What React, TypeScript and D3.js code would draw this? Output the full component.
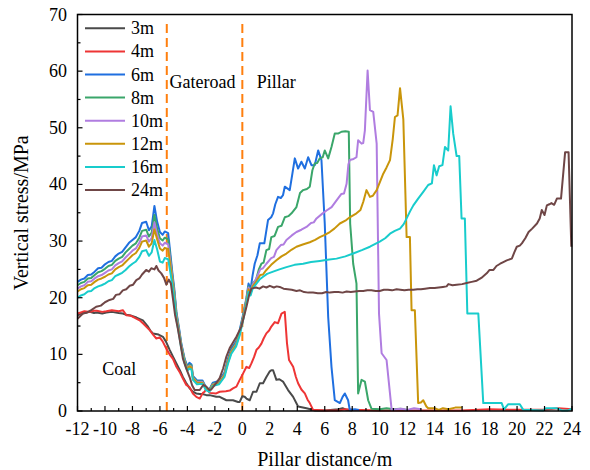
import React from 'react';
import * as d3 from 'd3';

type P = [number, number];

const seriesNames = ['3m', '4m', '6m', '8m', '10m', '12m', '16m', '24m'];
const seriesColors = ['#4a4a4a', '#ee3535', '#1f6fe0', '#3aa66a', '#b07de0', '#c9950a', '#18cccc', '#6f4646'];

const s3: P[] = [[-12,16.9],[-11.75,17.2],[-11.5,17.3],[-11.1,17.5],[-10.8,17.3],[-10.6,17.4],[-10.2,17.2],[-9.9,17.4],[-9.5,17.5],[-9.0,17.3],[-8.7,17.2],[-8.45,17.0],[-8.2,16.9],[-7.7,16.5],[-7.24,16.0],[-6.9,15.0],[-6.7,14.2],[-6.51,13.7],[-6.3,13.6],[-6.1,13.5],[-5.78,13.1],[-5.55,12.2],[-5.29,10.8],[-5.05,9.6],[-4.8,8.4],[-4.55,7.2],[-4.33,6.0],[-4.1,5.0],[-3.83,4.0],[-3.6,3.4],[-3.35,3.1],[-3.1,3.0],[-2.9,3.0],[-2.62,2.8],[-2.38,2.8],[-1.9,2.5],[-1.65,2.5],[-1.16,1.9],[-0.68,1.9],[-0.31,1.6],[-0.19,1.6],[0.0,2.6],[0.17,2.5],[0.3,2.2],[0.54,1.9],[0.78,3.4],[1.03,3.4],[1.27,4.9],[1.51,4.9],[1.75,6.0],[2.0,7.0],[2.11,7.2],[2.24,7.2],[2.48,5.5],[2.7,5.6],[2.96,5.2],[3.33,3.7],[3.7,2.5],[4.06,0.8],[4.67,0.5],[5.3,0.1],[6.0,0.1],[7.0,0.3],[7.3,0.5],[7.6,0.2],[8.0,0.1]];

const s4: P[] = [[-12,17.2],[-11.75,17.4],[-11.5,17.6],[-11.1,17.5],[-10.8,17.7],[-10.6,17.7],[-10.2,17.5],[-9.9,17.6],[-9.5,17.8],[-9.0,17.6],[-8.7,17.8],[-8.55,17.3],[-8.45,16.9],[-8.1,16.8],[-7.72,16.3],[-7.48,16.0],[-7.2,15.4],[-7.0,14.9],[-6.75,14.3],[-6.5,13.5],[-6.26,12.8],[-6.02,13.0],[-5.8,12.3],[-5.53,11.0],[-5.3,10.0],[-5.05,9.2],[-4.8,7.8],[-4.57,6.9],[-4.3,5.6],[-4.08,4.6],[-3.84,4.2],[-3.6,3.1],[-3.35,2.5],[-3.1,2.2],[-2.87,3.2],[-2.75,3.4],[-2.6,4.0],[-2.38,3.2],[-1.9,3.1],[-1.65,3.4],[-1.2,3.5],[-0.92,3.6],[-0.68,4.0],[-0.43,4.3],[-0.19,5.5],[0.05,6.6],[0.3,7.8],[0.5,7.6],[0.66,8.4],[0.85,9.5],[1.03,10.8],[1.2,11.2],[1.39,11.9],[1.55,12.8],[1.75,13.7],[1.95,14.2],[2.11,14.9],[2.36,15.7],[2.6,15.5],[2.85,17.2],[3.09,17.5],[3.25,12.0],[3.4,9.0],[3.7,7.8],[3.9,6.0],[4.06,4.9],[4.3,3.8],[4.55,3.1],[4.75,2.0],[4.91,1.4],[5.15,0.2],[6,0.1],[7,0.1],[7.5,0.3],[8,0.2],[10,0.1],[12,0.1],[14,0.1],[16,0.1],[18,0.3],[20,0.2],[22,0.2],[23,0.5],[24,0.3]];

const s6: P[] = [[-12,22.8],[-11.75,23.2],[-11.5,23.4],[-11.25,24.0],[-11,24.1],[-10.75,24.6],[-10.5,25.2],[-10.25,25.3],[-10,25.9],[-9.75,26.3],[-9.5,26.5],[-9.25,27.3],[-9,27.8],[-8.75,28.1],[-8.5,28.9],[-8.25,29.7],[-8,30.2],[-7.75,30.7],[-7.5,31.8],[-7.3,33.2],[-7,33.4],[-6.8,31.9],[-6.6,32.6],[-6.4,36.2],[-6.2,33.4],[-6.0,31.6],[-5.8,31.1],[-5.65,31.7],[-5.4,31.4],[-5.25,28.0],[-5.1,24.5],[-4.95,21.5],[-4.8,17.5],[-4.6,14.5],[-4.45,12.0],[-4.2,9.2],[-4.0,7.9],[-3.85,8.5],[-3.7,8.2],[-3.6,6.2],[-3.3,5.4],[-2.9,5.4],[-2.65,4.2],[-2.4,3.8],[-2.15,5.0],[-1.7,5.3],[-1.3,6.8],[-1.05,9.2],[-0.8,11.0],[-0.45,12.3],[-0.2,14.2],[0.1,17.5],[0.3,20.0],[0.45,22.5],[0.6,21.5],[0.75,24.0],[0.9,26.0],[1.1,27.5],[1.27,29.6],[1.6,29.6],[1.87,33.7],[2.1,34.2],[2.24,34.9],[2.4,36.5],[2.6,37.8],[2.8,37.6],[2.96,38.1],[3.09,39.6],[3.45,39.0],[3.65,42.0],[3.82,44.6],[4.06,42.8],[4.3,44.0],[4.55,42.8],[4.79,44.8],[5.03,43.4],[5.27,43.4],[5.52,46.0],[5.76,44.3],[6.0,33.1],[6.25,16.6],[6.49,7.8],[6.73,1.9],[7.1,1.4],[7.3,2.5],[7.46,3.1],[7.7,1.9],[7.82,0.2],[8.2,0.3],[8.5,0.2]];

const s8: P[] = [[-12,22.2],[-11.75,22.6],[-11.5,22.8],[-11.25,23.4],[-11,23.5],[-10.75,24.0],[-10.5,24.5],[-10.25,24.7],[-10,25.1],[-9.75,25.6],[-9.5,25.8],[-9.25,26.5],[-9,26.9],[-8.75,27.2],[-8.5,28.0],[-8.25,28.6],[-8,29.2],[-7.75,29.6],[-7.5,30.6],[-7.3,31.8],[-7,32.0],[-6.8,30.8],[-6.6,31.5],[-6.4,34.6],[-6.2,32.2],[-6.0,30.5],[-5.8,30.1],[-5.65,30.6],[-5.4,30.3],[-5.25,27.3],[-5.1,24.0],[-4.95,21.0],[-4.8,17.2],[-4.6,14.2],[-4.45,11.8],[-4.2,9.0],[-4.0,7.7],[-3.85,8.2],[-3.7,8.0],[-3.6,6.0],[-3.3,5.2],[-2.9,5.2],[-2.65,4.1],[-2.4,3.7],[-2.15,4.8],[-1.7,5.1],[-1.3,6.5],[-1.05,8.9],[-0.8,10.7],[-0.45,12.0],[-0.2,13.9],[0.1,17.2],[0.3,19.8],[0.45,22.0],[0.6,21.2],[0.75,22.5],[1.0,23.2],[1.2,25.0],[1.39,26.0],[1.55,26.2],[1.75,28.4],[1.95,28.6],[2.11,30.7],[2.35,30.9],[2.6,32.5],[2.85,32.7],[3.09,34.2],[3.35,34.4],[3.58,34.9],[3.94,36.0],[4.2,38.5],[4.43,39.0],[4.7,39.2],[4.91,39.6],[5.1,42.5],[5.27,43.7],[5.45,43.8],[5.64,44.6],[5.85,44.8],[6.0,46.0],[6.25,44.6],[6.49,46.6],[6.73,49.0],[7.0,49.0],[7.22,49.3],[7.5,49.4],[7.75,49.3],[7.85,33.1],[8.07,26.0],[8.31,22.5],[8.43,3.1],[8.68,5.5],[8.92,5.2],[9.16,1.9],[9.4,0.4],[10,0.3],[10.5,0.5],[11,0.3],[11.5,0.4],[12,0.2]];

const s10: P[] = [[-12,21.6],[-11.75,22.0],[-11.5,22.2],[-11.25,22.8],[-11,22.9],[-10.75,23.4],[-10.5,23.8],[-10.25,24.0],[-10,24.4],[-9.75,24.8],[-9.5,25.0],[-9.25,25.7],[-9,26.1],[-8.75,26.4],[-8.5,27.1],[-8.25,27.7],[-8,28.3],[-7.75,28.7],[-7.5,29.7],[-7.3,30.8],[-7,31.0],[-6.8,29.9],[-6.6,30.5],[-6.4,33.3],[-6.2,31.2],[-6.0,29.6],[-5.8,29.2],[-5.65,29.7],[-5.4,29.4],[-5.25,26.6],[-5.1,23.6],[-4.95,20.6],[-4.8,16.9],[-4.6,14.0],[-4.45,11.6],[-4.2,8.8],[-4.0,7.5],[-3.85,8.0],[-3.7,7.8],[-3.6,5.9],[-3.3,5.1],[-2.9,5.1],[-2.65,4.0],[-2.4,3.6],[-2.15,4.7],[-1.7,5.0],[-1.3,6.4],[-1.05,8.7],[-0.8,10.5],[-0.45,11.8],[-0.2,13.7],[0.1,17.0],[0.3,19.6],[0.45,21.8],[0.6,21.0],[0.75,22.3],[1.0,23.3],[1.3,25.0],[1.5,25.2],[1.75,26.0],[2.1,27.0],[2.3,27.2],[2.48,28.4],[2.8,29.3],[3.0,29.4],[3.21,30.2],[3.6,31.0],[3.94,31.6],[4.3,32.0],[4.67,32.5],[5.0,33.2],[5.2,33.3],[5.4,34.0],[5.8,34.8],[6.13,35.4],[6.5,36.0],[6.86,37.2],[7.2,38.3],[7.4,38.4],[7.59,40.1],[7.72,43.5],[7.82,44.3],[8.1,44.5],[8.31,44.8],[8.43,47.8],[8.68,47.2],[8.8,47.3],[8.92,49.5],[9.12,60.1],[9.29,53.1],[9.53,52.8],[9.78,47.2],[9.95,17.2],[10.14,10.2],[10.5,9.0],[10.87,0.2],[11.2,0.3],[11.6,0.4],[12.0,0.2],[12.5,0.5],[13.0,0.3]];

const s12: P[] = [[-12,21.1],[-11.75,21.5],[-11.5,21.7],[-11.25,22.2],[-11,22.3],[-10.75,22.8],[-10.5,23.2],[-10.25,23.4],[-10,23.7],[-9.75,24.1],[-9.5,24.3],[-9.25,25.0],[-9,25.4],[-8.75,25.7],[-8.5,26.3],[-8.25,26.9],[-8,27.5],[-7.75,27.9],[-7.5,28.8],[-7.3,29.9],[-7,30.1],[-6.8,29.0],[-6.6,29.6],[-6.4,32.1],[-6.2,30.3],[-6.0,28.7],[-5.8,28.3],[-5.65,28.8],[-5.4,28.6],[-5.25,25.9],[-5.1,23.2],[-4.95,20.3],[-4.8,16.7],[-4.6,13.8],[-4.45,11.4],[-4.2,8.7],[-4.0,7.4],[-3.85,7.9],[-3.7,7.7],[-3.6,5.8],[-3.3,5.0],[-2.9,5.0],[-2.65,3.9],[-2.4,3.6],[-2.15,4.6],[-1.7,4.9],[-1.3,6.3],[-1.05,8.6],[-0.8,10.4],[-0.45,11.7],[-0.2,13.6],[0.1,16.8],[0.3,19.4],[0.45,21.5],[0.6,20.7],[0.75,22.0],[1.0,22.8],[1.3,24.0],[1.5,24.1],[1.75,24.9],[2.1,25.8],[2.48,26.6],[2.85,27.3],[3.21,27.8],[3.6,28.5],[3.94,29.0],[4.4,29.4],[4.91,29.8],[5.3,30.2],[5.64,30.7],[6.0,31.1],[6.37,31.6],[6.7,32.2],[7.1,33.1],[7.5,33.6],[7.82,34.2],[8.31,34.9],[8.6,35.5],[8.8,36.9],[9.04,39.0],[9.29,37.8],[9.5,38.0],[9.78,39.0],[10.0,40.3],[10.26,41.9],[10.5,43.0],[10.75,44.3],[10.95,48.0],[11.11,51.9],[11.3,52.2],[11.48,57.0],[11.72,51.5],[11.96,30.7],[12.2,30.7],[12.32,17.8],[12.56,17.8],[12.8,1.4],[13.0,1.5],[13.17,1.9],[13.4,0.8],[13.53,0.5],[14.0,0.5],[14.3,0.2],[14.6,0.5],[15.0,0.3],[15.5,0.6],[16.0,0.6]];

const s16: P[] = [[-12,20.0],[-11.75,20.4],[-11.5,20.6],[-11.25,21.1],[-11,21.2],[-10.75,21.7],[-10.5,22.0],[-10.25,22.2],[-10,22.5],[-9.75,22.9],[-9.5,23.1],[-9.25,23.8],[-9,24.1],[-8.75,24.4],[-8.5,24.9],[-8.25,25.5],[-8,26.0],[-7.75,26.4],[-7.5,27.2],[-7.3,28.2],[-7,28.4],[-6.8,27.4],[-6.6,28.0],[-6.4,30.2],[-6.2,28.5],[-6.0,26.4],[-5.8,26.2],[-5.65,27.0],[-5.4,26.8],[-5.25,24.6],[-5.1,22.3],[-4.95,19.7],[-4.8,16.2],[-4.6,13.4],[-4.45,11.1],[-4.2,8.4],[-4.0,7.1],[-3.85,7.5],[-3.7,7.3],[-3.6,5.5],[-3.3,4.7],[-2.9,4.8],[-2.65,3.7],[-2.4,3.4],[-2.15,4.4],[-1.7,4.7],[-1.3,6.0],[-1.05,8.3],[-0.8,10.1],[-0.45,11.4],[-0.2,13.3],[0.1,16.5],[0.3,19.0],[0.45,21.0],[0.6,20.4],[0.75,21.6],[1.0,22.4],[1.25,23.2],[1.51,23.7],[1.8,24.2],[2.24,24.6],[2.7,25.0],[3.21,25.4],[3.8,25.8],[4.43,26.0],[5.0,26.3],[5.64,26.5],[6.2,26.7],[6.86,26.9],[7.5,27.3],[8.07,27.8],[8.7,28.4],[9.29,29.0],[10.0,29.9],[10.4,30.5],[10.75,31.3],[11.1,31.8],[11.48,32.2],[11.75,33.0],[11.96,34.0],[12.2,35.2],[12.45,36.3],[12.8,37.5],[13.17,38.7],[13.53,39.9],[13.8,40.2],[13.95,43.4],[14.14,41.6],[14.33,43.2],[14.57,43.4],[14.75,46.6],[14.99,46.0],[15.16,53.8],[15.35,49.0],[15.6,45.0],[15.79,45.0],[15.96,34.0],[16.2,34.0],[16.38,17.2],[17.18,17.2],[17.54,1.4],[18.88,1.4],[19.05,0.3],[19.36,1.2],[20.2,1.2],[20.45,0.2],[21.9,0.1],[22.1,0.5],[22.9,0.5],[23.25,0.1],[23.7,0.1],[24,0.4]];

const s24: P[] = [[-12,16.3],[-11.6,17.2],[-11.3,17.4],[-11,17.8],[-10.64,18.4],[-10.3,18.6],[-10,19.2],[-9.67,19.6],[-9.4,19.8],[-9.2,20.5],[-8.95,20.6],[-8.7,21.3],[-8.45,21.5],[-8.2,22.1],[-7.95,22.3],[-7.72,23.1],[-7.5,23.4],[-7.3,24.1],[-7.0,24.9],[-6.8,24.6],[-6.63,25.2],[-6.4,25.0],[-6.26,25.6],[-6.1,24.8],[-5.9,24.3],[-5.7,23.5],[-5.53,22.3],[-5.35,23.2],[-5.2,22.5],[-5.05,19.8],[-4.9,17.0],[-4.7,14.6],[-4.5,11.8],[-4.33,9.3],[-4.1,7.6],[-3.84,6.0],[-3.65,4.5],[-3.47,3.7],[-3.1,3.7],[-2.85,4.6],[-2.62,4.3],[-2.4,3.7],[-2.26,3.8],[-1.95,4.8],[-1.65,5.8],[-1.4,7.5],[-1.16,9.6],[-0.92,11.1],[-0.7,12.0],[-0.43,13.1],[-0.25,14.0],[-0.07,14.9],[0.1,16.5],[0.3,18.4],[0.5,20.5],[0.66,21.6],[1.0,21.8],[1.25,21.6],[1.51,22.0],[1.75,21.8],[2.0,22.1],[2.3,21.8],[2.5,22.0],[2.72,21.9],[3.0,21.6],[3.3,21.5],[3.6,21.4],[3.94,21.2],[4.2,21.3],[4.5,21.0],[4.8,20.9],[5.15,20.9],[5.5,20.8],[5.8,20.8],[6.1,21.0],[6.37,20.9],[6.7,21.0],[7.0,21.0],[7.3,20.9],[7.59,21.1],[7.9,21.0],[8.2,21.1],[8.5,21.2],[8.8,21.2],[9.1,21.3],[9.4,21.3],[9.7,21.2],[10.0,21.2],[10.3,21.4],[10.6,21.4],[10.9,21.3],[11.23,21.5],[11.5,21.4],[11.8,21.3],[12.1,21.4],[12.45,21.4],[12.75,21.5],[13.0,21.5],[13.3,21.6],[13.66,21.7],[14.0,21.7],[14.3,21.8],[14.6,21.9],[14.87,22.0],[15.0,22.4],[15.3,22.2],[15.6,22.3],[16.0,22.4],[16.33,22.6],[16.7,22.8],[17.06,23.0],[17.4,23.5],[17.79,24.3],[18.0,24.9],[18.28,24.9],[18.5,25.6],[18.77,26.0],[19.0,26.3],[19.25,26.6],[19.62,26.9],[19.8,28.0],[19.98,29.0],[20.2,29.2],[20.35,29.6],[20.6,30.5],[20.84,31.6],[21.1,32.2],[21.45,33.1],[21.65,34.0],[21.8,35.5],[22.0,34.6],[22.17,36.3],[22.35,36.5],[22.5,36.7],[22.7,36.4],[22.9,37.5],[23.2,37.5],[23.5,45.7],[23.75,45.7],[23.95,29.0]];

const seriesData: P[][] = [s3, s4, s6, s8, s10, s12, s16, s24];

const xTickValues = d3.range(-12, 25, 1);
const xLabelValues = d3.range(-12, 25, 2);
const yTickValues = d3.range(0, 71, 5);
const yLabelValues = d3.range(0, 71, 10);
const boundaryLines = [-5.5, 0];
const regionLabels = [
  { text: 'Gateroad', x: -5.3, y: 57 },
  { text: 'Pillar', x: 1.05, y: 57 },
  { text: 'Coal', x: -10.2, y: 6.4 },
];

const W = 590;
const H = 470;
const FONT = "'Liberation Serif', 'Times New Roman', 'DejaVu Serif', serif";

export default function App() {
  const x = d3.scaleLinear().domain([-12, 24]).range([77.5, 572]);
  const y = d3.scaleLinear().domain([0, 70]).range([411, 14.5]);
  const line = d3.line<P>().x(d => x(d[0])).y(d => y(d[1]));
  const [x0, x1] = x.range();
  const [yb, yt] = y.range();
  const ts = { fontFamily: FONT };

  return (
    <svg width={W} height={H} style={{ position: 'absolute', left: 0, top: 0, background: '#fff', fontFamily: FONT }}>
      {boundaryLines.map((b, i) => (
        <line key={'b' + i} x1={x(b)} x2={x(b)} y1={y(0)} y2={y(68.8)} stroke="#ff7f0e" strokeWidth={2} strokeDasharray="9,5" />
      ))}
      {seriesData.map((d, i) => (
        <path key={'s' + i} d={line(d) || ''} fill="none" stroke={seriesColors[i]} strokeWidth={2} strokeLinejoin="round" />
      ))}
      <rect x={x0} y={yt} width={x1 - x0} height={yb - yt} fill="none" stroke="#000" strokeWidth={1.5} />
      {xTickValues.map(v => (
        <line key={'xt' + v} x1={x(v)} x2={x(v)} y1={yb} y2={yb - (v % 2 === 0 ? 5 : 3)} stroke="#000" strokeWidth={1.2} />
      ))}
      {xLabelValues.map(v => (
        <text key={'xl' + v} style={ts} x={x(v)} y={435} fontSize={18} textAnchor="middle">{v}</text>
      ))}
      {yTickValues.map(v => (
        <line key={'yt' + v} x1={x0} x2={x0 + (v % 10 === 0 ? 5 : 3)} y1={y(v)} y2={y(v)} stroke="#000" strokeWidth={1.2} />
      ))}
      {yLabelValues.map(v => (
        <text key={'yl' + v} style={ts} x={67} y={y(v) + 6} fontSize={18} textAnchor="end">{v}</text>
      ))}
      <text style={ts} x={(x0 + x1) / 2} y={466} fontSize={20} textAnchor="middle">Pillar distance/m</text>
      <text style={ts} transform={`translate(28,${(yb + yt) / 2}) rotate(-90)`} fontSize={20} textAnchor="middle">Vertical stress/MPa</text>
      {regionLabels.map((r, i) => (
        <text key={'r' + i} style={ts} x={x(r.x)} y={y(r.y)} fontSize={18}>{r.text}</text>
      ))}
      {seriesNames.map((n, i) => {
        const ly = 28.3 + i * 23.1;
        return (
          <g key={'lg' + i}>
            <line x1={85} x2={125} y1={ly} y2={ly} stroke={seriesColors[i]} strokeWidth={2} />
            <text style={ts} x={131} y={ly + 6} fontSize={18}>{n}</text>
          </g>
        );
      })}
    </svg>
  );
}
